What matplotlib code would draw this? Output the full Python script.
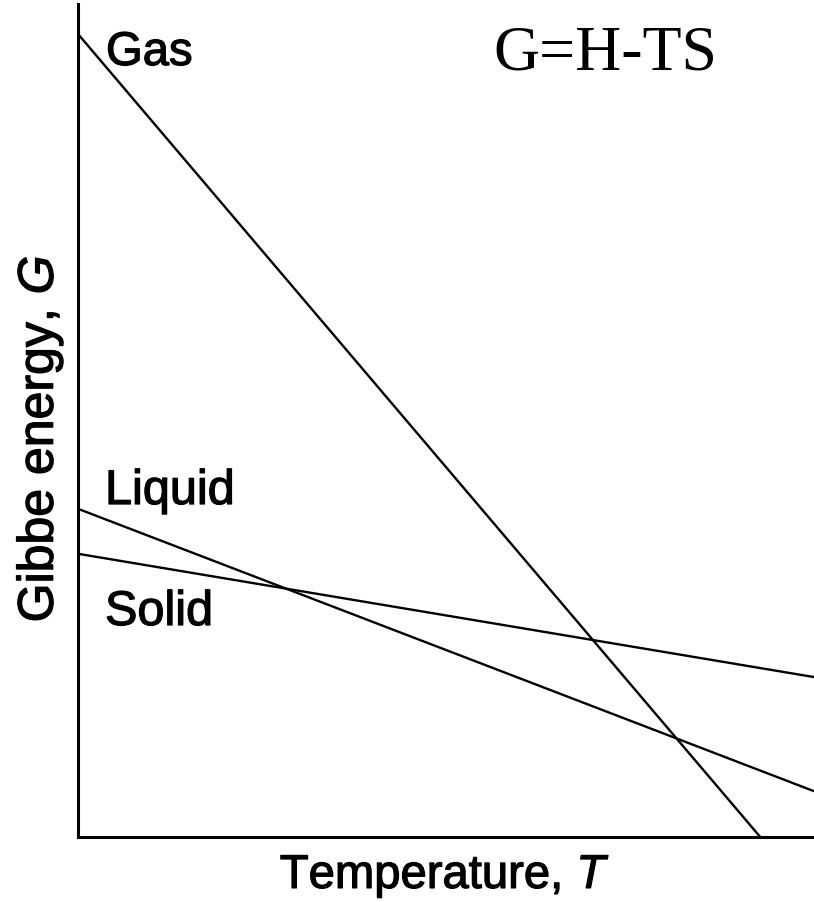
import matplotlib
matplotlib.use("Agg")
import matplotlib.pyplot as plt
import matplotlib.patheffects as pe

# Data (temperature T in arbitrary units 0..10, Gibbs energy G in arbitrary units)
T_gas = [0.0, 9.27]
G_gas = [9.64, 0.0]
T_liquid = [0.0, 10.0]
G_liquid = [3.94, 0.55]
T_solid = [0.0, 10.0]
G_solid = [3.40, 1.92]

W, H = 814, 903
plt.rcParams['mathtext.fontset'] = 'custom'
plt.rcParams['mathtext.rm'] = 'Liberation Sans'
plt.rcParams['mathtext.it'] = 'Liberation Sans:italic'

fig = plt.figure(figsize=(W / 100, H / 100), dpi=100)
left_px, right_px, top_px, bot_px = 78, 814, 5, 838
ax = fig.add_axes([left_px / W, (H - bot_px) / H, (right_px - left_px) / W, (bot_px - top_px) / H])

ax.plot(T_gas, G_gas, color='black', lw=1.7, solid_capstyle='butt')
ax.plot(T_liquid, G_liquid, color='black', lw=1.7, solid_capstyle='butt')
ax.plot(T_solid, G_solid, color='black', lw=1.7, solid_capstyle='butt')

ax.set_xlim(0, 10)
ax.set_ylim(0, 10)
ax.set_xticks([])
ax.set_yticks([])
ax.spines['top'].set_visible(False)
ax.spines['right'].set_visible(False)
ax.spines['left'].set_linewidth(2.2)
ax.spines['bottom'].set_linewidth(2.2)

def px(x, y):
    return x / W, 1 - y / H

sans = 'Liberation Sans'
heavy = [pe.withStroke(linewidth=0.9, foreground='black')]
fig.text(*px(106, 66), 'Gas', family=sans, fontsize=34, ha='left', va='baseline', path_effects=heavy)
fig.text(*px(105, 505), 'Liquid', family=sans, fontsize=35, ha='left', va='baseline', path_effects=heavy)
fig.text(*px(105, 626), 'Solid', family=sans, fontsize=35, ha='left', va='baseline', path_effects=heavy)
fig.text(*px(493, 70), 'G=H-TS', family='Liberation Serif', fontsize=46, ha='left', va='baseline')
fig.text(*px(445, 889), r'Temperature, $\mathit{T}$', family=sans, fontsize=34, ha='center', va='baseline', path_effects=heavy)
fig.text(*px(40, 440), r'Gibbe energy, $\mathit{G}$', family=sans, fontsize=36, ha='center', va='center', rotation=90, path_effects=heavy)

fig.savefig('out.png', dpi=100)
